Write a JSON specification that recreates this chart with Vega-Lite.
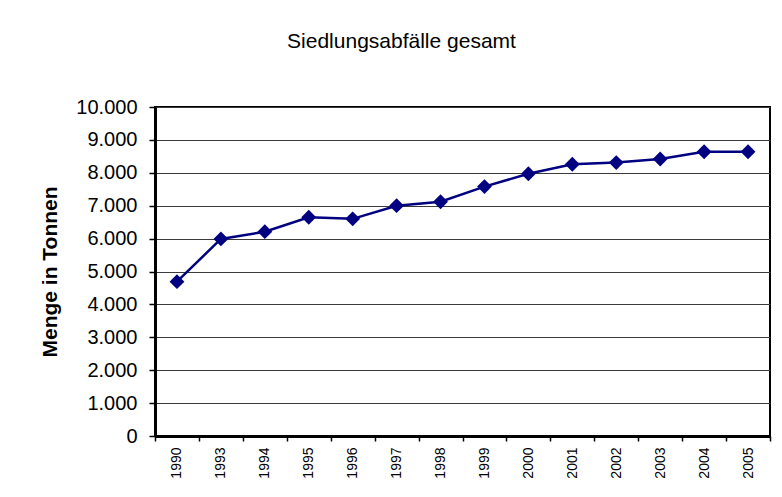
{
  "$schema": "https://vega.github.io/schema/vega-lite/v6.json",
  "width": 615,
  "height": 329,
  "autosize": {"type": "none"},
  "padding": {"left": 155, "top": 107, "right": 12, "bottom": 61},
  "background": "white",
  "config": {
    "font": "Liberation Sans",
    "locale": {"number": {"decimal": ",", "thousands": ".", "grouping": [3], "currency": ["", " €"]}},
    "view": {"stroke": "#000000", "strokeWidth": 2}
  },
  "title": {
    "text": "Siedlungsabfälle gesamt",
    "font": "Liberation Sans",
    "fontSize": 21,
    "fontWeight": "normal",
    "color": "#000000",
    "anchor": "middle",
    "dx": -61,
    "offset": 45
  },
  "data": {
    "values": [
      {"Jahr": "1990", "Menge": 4690},
      {"Jahr": "1993", "Menge": 5990},
      {"Jahr": "1994", "Menge": 6210},
      {"Jahr": "1995", "Menge": 6650},
      {"Jahr": "1996", "Menge": 6600},
      {"Jahr": "1997", "Menge": 7000},
      {"Jahr": "1998", "Menge": 7120},
      {"Jahr": "1999", "Menge": 7580},
      {"Jahr": "2000", "Menge": 7970},
      {"Jahr": "2001", "Menge": 8260},
      {"Jahr": "2002", "Menge": 8310},
      {"Jahr": "2003", "Menge": 8420},
      {"Jahr": "2004", "Menge": 8640},
      {"Jahr": "2005", "Menge": 8640}
    ]
  },
  "encoding": {
    "x": {
      "field": "Jahr",
      "type": "ordinal",
      "scale": {"paddingInner": 0, "paddingOuter": 0},
      "axis": {
        "title": null,
        "labelAngle": 270,
        "labelFontSize": 14,
        "labelColor": "#000000",
        "labelPadding": 6,
        "labelAlign": "right",
        "labelBaseline": "middle",
        "tickBand": "extent",
        "tickSize": 5,
        "tickColor": "#000000",
        "tickWidth": 1.5,
        "domainColor": "#000000",
        "domainWidth": 3,
        "grid": false
      }
    },
    "y": {
      "field": "Menge",
      "type": "quantitative",
      "scale": {"domain": [0, 10000], "nice": false},
      "axis": {
        "title": "Menge in Tonnen",
        "titleFontSize": 21,
        "titleFontWeight": "bold",
        "titleColor": "#000000",
        "titlePadding": 15,
        "values": [0, 1000, 2000, 3000, 4000, 5000, 6000, 7000, 8000, 9000, 10000],
        "format": ",d",
        "labelFontSize": 20,
        "labelColor": "#000000",
        "labelPadding": 12,
        "tickSize": 6,
        "tickColor": "#000000",
        "tickWidth": 1.5,
        "domainColor": "#000000",
        "domainWidth": 3,
        "grid": true,
        "gridColor": "#3a3a3a",
        "gridWidth": 1.2
      }
    }
  },
  "layer": [
    {"mark": {"type": "line", "color": "#000080", "strokeWidth": 2.5}},
    {"mark": {"type": "point", "shape": "diamond", "filled": true, "color": "#000080", "opacity": 1, "size": 220}}
  ]
}
